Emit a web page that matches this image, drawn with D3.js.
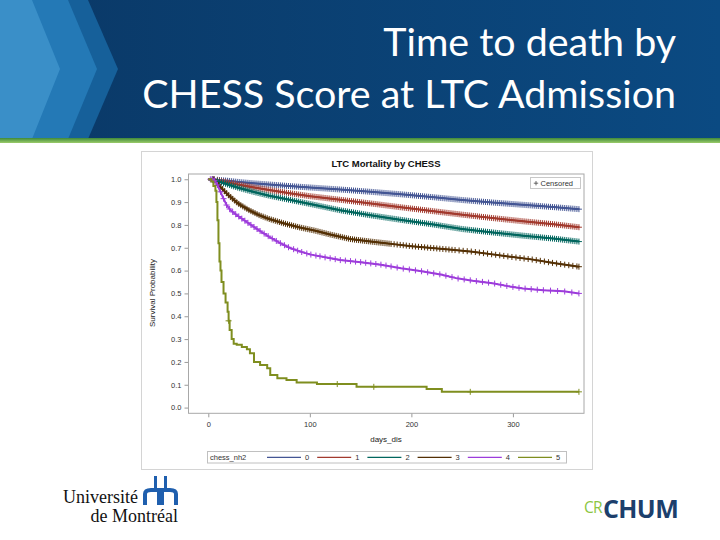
<!DOCTYPE html>
<html><head><meta charset="utf-8">
<script src="https://cdn.jsdelivr.net/npm/d3@7"></script>
<style>body{margin:0;background:#fff;overflow:hidden}</style>
</head><body>
<svg id="c" width="720" height="540"></svg>
<script>
// ---------- data ----------
const slideTitle = ["Time to death by", "CHESS Score at LTC Admission"];
const chartTitle = "LTC Mortality by CHESS";
const xLabel = "days_dis";
const yLabel = "Survival Probability";
const xTicks = [0, 100, 200, 300];
const yTicks = [0.0, 0.1, 0.2, 0.3, 0.4, 0.5, 0.6, 0.7, 0.8, 0.9, 1.0];
const legendTitle = "chess_nh2";
const groups = ["0", "1", "2", "3", "4", "5"];
const censoredLabel = "Censored";
const colors = ["#445694", "#A23A2E", "#01665E", "#543005", "#9D3CDB", "#7F8E1F"];

const days0 = [0, 5, 10, 20, 30, 45, 60, 80, 100, 130, 160, 190, 220, 250, 280, 310, 340, 365];
const surv0 = [1.0, 1.0, 0.997, 0.993, 0.988, 0.982, 0.977, 0.970, 0.964, 0.955, 0.945, 0.934, 0.922, 0.909, 0.898, 0.888, 0.878, 0.869];
const days1 = [0, 5, 10, 20, 30, 45, 60, 80, 100, 130, 160, 190, 220, 250, 280, 310, 340, 365];
const surv1 = [1.0, 1.0, 0.994, 0.985, 0.976, 0.964, 0.953, 0.939, 0.926, 0.910, 0.894, 0.877, 0.861, 0.845, 0.830, 0.816, 0.803, 0.790];
const days2 = [0, 5, 10, 20, 30, 45, 60, 80, 100, 130, 160, 190, 220, 250, 280, 310, 340, 365];
const surv2 = [1.0, 0.998, 0.990, 0.976, 0.962, 0.944, 0.928, 0.910, 0.892, 0.864, 0.842, 0.822, 0.803, 0.782, 0.767, 0.753, 0.740, 0.727];
const days3 = [0, 5, 10, 15, 20, 25, 30, 40, 50, 60, 75, 90, 105, 120, 140, 160, 180, 200, 220, 240, 260, 280, 300, 320, 340, 365];
const surv3 = [1.0, 1.0, 0.975, 0.952, 0.930, 0.910, 0.892, 0.865, 0.843, 0.826, 0.806, 0.789, 0.775, 0.758, 0.738, 0.727, 0.717, 0.707, 0.699, 0.691, 0.683, 0.671, 0.659, 0.648, 0.633, 0.617];
const days4 = [0, 5, 8, 10, 12, 15, 18, 22, 26, 30, 40, 50, 60, 70, 80, 90, 100, 115, 130, 150, 170, 190, 210, 230, 245, 260, 280, 295, 310, 330, 350, 365];
const surv4 = [1.0, 1.0, 0.985, 0.965, 0.945, 0.915, 0.887, 0.864, 0.850, 0.837, 0.806, 0.776, 0.748, 0.722, 0.700, 0.684, 0.671, 0.658, 0.646, 0.637, 0.626, 0.610, 0.597, 0.582, 0.566, 0.556, 0.545, 0.532, 0.522, 0.514, 0.509, 0.500];
const days5 = [0, 3, 5, 7, 8, 9, 10, 11, 12, 13, 15, 17, 19, 20, 21, 23, 25, 28, 33, 38, 41, 45, 51, 58, 61, 68, 77, 87, 107, 146, 215, 230, 365];
const surv5 = [1.0, 0.99, 0.97, 0.95, 0.90, 0.82, 0.72, 0.64, 0.60, 0.55, 0.50, 0.46, 0.42, 0.38, 0.34, 0.30, 0.28, 0.275, 0.265, 0.255, 0.238, 0.200, 0.186, 0.172, 0.143, 0.128, 0.121, 0.110, 0.103, 0.091, 0.081, 0.069, 0.069];

const censorDense = [4,6,9,11,13,15,17,19,21,23,25,27,29,31,33,35,37,39,41,43,45,47,49,51,53,55,57,59,61,63,65,67,69,71,73,75,77,79,81,83,85,87,89,91,93,95,97,99,101,103,105,107,109,111,113,115,117,119,121,123,125,127,129,131,133,135,137,139,141,143,145,147,149,151,153,155,157,159,161,163,165,167,169,171,173,175,177,179,181,183,185,187,189,191,193,195,197,199,201,203,205,207,209,211,213,215,217,219,221,223,225,227,229,231,233,235,237,239,241,243,245,247,249,251,253,255,257,259,261,263,265,267,269,271,273,275,277,279,281,283,285,287,289,291,293,295,297,299,301,303,305,307,309,311,313,315,317,319,321,323,325,327,329,331,333,335,337,339,341,343,345,347,349,351,353,355,357,359,361,363,365];
const censor3 = [5,8,10,12,14,16,18,20,22,24,26,28,30,32,34,36,38,40,42,44,46,48,50,52,54,56,58,60,62,64,66,68,70,72,74,76,78,80,82,84,86,88,90,92,94,96,98,100,102,104,106,108,110,112,114,116,118,120,122,124,126,128,130,132,134,136,138,140,142,144,146,148,150,152,154,156,158,160,162,164,166,168,170,172,174,176,178,180,183,186,189,192,195,198,201,204,207,210,213,216,219,222,225,228,231,234,237,240,243,247,251,255,259,263,267,271,275,279,283,287,291,295,299,303,307,311,315,319,323,327,331,335,339,343,347,351,355,359,363,365];
const censor4 = [2,4,6,9,12,15,18,21,24,27,30,33,36,39,42,45,48,51,55,59,63,67,71,75,79,84,88,92,97,101,106,110,115,120,125,130,135,140,145,150,155,160,165,170,175,180,186,192,198,204,210,216,222,228,234,240,246,252,258,264,270,276,282,288,294,300,306,312,318,324,330,337,344,351,358,365];
const censor5 = [20, 127, 163, 258, 365];

// ---------- layout ----------
const svg = d3.select("#c");
const FONT = "'Liberation Sans', Arial, sans-serif";

// header band
const defs = svg.append("defs");
const g1 = defs.append("linearGradient").attr("id", "navy").attr("x1", 0).attr("x2", 1);
g1.append("stop").attr("offset", 0).attr("stop-color", "#0a3866");
g1.append("stop").attr("offset", 1).attr("stop-color", "#0b4a82");
const g2 = defs.append("linearGradient").attr("id", "green").attr("x1", 0).attr("x2", 0).attr("y1", 0).attr("y2", 1);
g2.append("stop").attr("offset", 0).attr("stop-color", "#3f8a3a");
g2.append("stop").attr("offset", 1).attr("stop-color", "#9ccc6a");

svg.append("rect").attr("x", 0).attr("y", 0).attr("width", 720).attr("height", 139).attr("fill", "url(#navy)");
svg.append("polygon").attr("points", "0,0 88,0 118,69 88,139 0,139").attr("fill", "#16609a");
svg.append("polygon").attr("points", "0,0 68,0 97,69 68,139 0,139").attr("fill", "#2479b6");
svg.append("polygon").attr("points", "0,0 32,0 60,69 32,139 0,139").attr("fill", "#3a8fc8");
svg.append("rect").attr("x", 0).attr("y", 138).attr("width", 720).attr("height", 5).attr("fill", "url(#green)");

const tl1 = svg.append("text").attr("x", 676).attr("y", 56).attr("text-anchor", "end")
  .attr("fill", "#fff").attr("font-family", "Lato, 'Open Sans', sans-serif").attr("font-size", 40).text(slideTitle[0]);
const tl2 = svg.append("text").attr("x", 676).attr("y", 108).attr("text-anchor", "end")
  .attr("fill", "#fff").attr("font-family", "Lato, 'Open Sans', sans-serif").attr("font-size", 40).text(slideTitle[1]);
const w2 = tl2.node().getComputedTextLength();
const fs = 40 * 534 / w2;
tl1.attr("font-size", fs); tl2.attr("font-size", fs);

// chart image frame
svg.append("rect").attr("x", 141.5).attr("y", 151.5).attr("width", 451).attr("height", 318)
  .attr("fill", "#fff").attr("stroke", "#d4d4d4");

const x = d3.scaleLinear().domain([-19.5, 370]).range([188.5, 584]);
const y = d3.scaleLinear().domain([-0.025, 1.023]).range([413.3, 174]);

svg.append("text").attr("x", 386).attr("y", 166.5).attr("text-anchor", "middle")
  .attr("font-family", FONT).attr("font-weight", "bold").attr("font-size", 9.5).attr("fill", "#111").text(chartTitle);

// axes
const yAxis = svg.append("g").attr("transform", `translate(${x.range()[0]},0)`)
  .call(d3.axisLeft(y).tickValues(yTicks).tickSize(4).tickPadding(3).tickFormat(d3.format(".1f")));
const xAxis = svg.append("g").attr("transform", `translate(0,${y.range()[0]})`)
  .call(d3.axisBottom(x).tickValues(xTicks).tickSize(4).tickPadding(4).tickFormat(d3.format("d")));
[yAxis, xAxis].forEach(a => {
  a.select(".domain").remove();
  a.selectAll("line").attr("stroke", "#9a9a9a");
  a.selectAll("text").attr("font-family", FONT).attr("font-size", 7.5).attr("fill", "#333");
});
svg.append("rect").attr("x", x.range()[0]).attr("y", y.range()[1])
  .attr("width", x.range()[1] - x.range()[0]).attr("height", y.range()[0] - y.range()[1])
  .attr("fill", "none").attr("stroke", "#a8a8a8");

svg.append("text").attr("x", 386).attr("y", 442).attr("text-anchor", "middle")
  .attr("font-family", FONT).attr("font-size", 8).attr("fill", "#222").text(xLabel);
svg.append("text").attr("transform", "translate(155,293) rotate(-90)").attr("text-anchor", "middle")
  .attr("font-family", FONT).attr("font-size", 8).attr("fill", "#222").text(yLabel);

// curves
const series = [
  {d: days0, s: surv0, c: censorDense, step: false},
  {d: days1, s: surv1, c: censorDense, step: false},
  {d: days2, s: surv2, c: censorDense, step: false},
  {d: days3, s: surv3, c: censor3, step: false},
  {d: days4, s: surv4, c: censor4, step: false},
  {d: days5, s: surv5, c: censor5, step: true}
];
const plot = svg.append("g");
series.forEach((ser, i) => {
  const pts = ser.d.map((d, k) => [d, ser.s[k]]);
  const line = d3.line().x(p => x(p[0])).y(p => y(p[1]))
    .curve(ser.step ? d3.curveStepAfter : d3.curveLinear);
  plot.append("path").attr("d", line(pts)).attr("fill", "none")
    .attr("stroke", colors[i]).attr("stroke-width", 2);
  const at = t => {
    if (ser.step) {
      let v = ser.s[0];
      for (let k = 0; k < ser.d.length; k++) if (ser.d[k] <= t) v = ser.s[k];
      return v;
    }
    return d3.scaleLinear().domain(ser.d).range(ser.s).clamp(true)(t);
  };
  plot.selectAll(null).data(ser.c).enter().append("path")
    .attr("d", d => `M${x(d)},${y(at(d)) - 3}v6M${x(d) - 3},${y(at(d))}h6`)
    .attr("stroke", colors[i]).attr("stroke-width", 1).attr("fill", "none");
});

// censored legend
svg.append("rect").attr("x", 530.5).attr("y", 177.5).attr("width", 50).attr("height", 11)
  .attr("fill", "#fff").attr("stroke", "#c8c8c8");
svg.append("path").attr("d", "M536,181v4.4M533.8,183.2h4.4").attr("stroke", "#444").attr("stroke-width", 0.8);
svg.append("text").attr("x", 540.5).attr("y", 186).attr("font-family", FONT).attr("font-size", 7.5)
  .attr("fill", "#333").text(censoredLabel);

// group legend
svg.append("rect").attr("x", 207.5).attr("y", 451.5).attr("width", 359).attr("height", 11.5)
  .attr("fill", "#fff").attr("stroke", "#c0c0c0");
svg.append("text").attr("x", 210).attr("y", 460).attr("font-family", FONT).attr("font-size", 7.5)
  .attr("fill", "#333").text(legendTitle);
const lg = d3.scalePoint().domain(groups).range([267, 518]);
groups.forEach((g, i) => {
  svg.append("line").attr("x1", lg(g)).attr("x2", lg(g) + 34).attr("y1", 457.3).attr("y2", 457.3)
    .attr("stroke", colors[i]).attr("stroke-width", 1.3);
  svg.append("text").attr("x", lg(g) + 38).attr("y", 460).attr("font-family", FONT).attr("font-size", 7.5)
    .attr("fill", "#333").text(g);
});

// logos
const serif = "'Liberation Serif', 'DejaVu Serif', serif";
svg.append("text").attr("x", 138).attr("y", 503).attr("text-anchor", "end").attr("font-family", serif)
  .attr("font-size", 18).attr("fill", "#111").text("Université");
svg.append("text").attr("x", 178).attr("y", 522).attr("text-anchor", "end").attr("font-family", serif)
  .attr("font-size", 18).attr("fill", "#111").text("de Montréal");
const logo = svg.append("g").attr("fill", "#1f5fae");
logo.append("rect").attr("x", 154).attr("y", 476).attr("width", 3).attr("height", 14);
logo.append("rect").attr("x", 164).attr("y", 476).attr("width", 3).attr("height", 14);
logo.append("path").attr("d", "M143,505 V494 Q143,488 151,488 H170 Q178,488 178,494 V505 H174 V494 Q174,492 170,492 H164 V505 H157 V492 H151 Q147,492 147,494 V505 Z");
svg.append("text").attr("x", 584).attr("y", 513).attr("font-family", "'Open Sans', sans-serif")
  .attr("font-size", 15.5).attr("fill", "#8cc63f").attr("letter-spacing", -0.8).text("CR");
svg.append("text").attr("x", 603).attr("y", 518).attr("font-family", "'Open Sans', sans-serif")
  .attr("font-weight", "bold").attr("font-size", 25).attr("letter-spacing", -0.6).attr("fill", "#1c3f6c").text("CHUM");
</script>
</body></html>
